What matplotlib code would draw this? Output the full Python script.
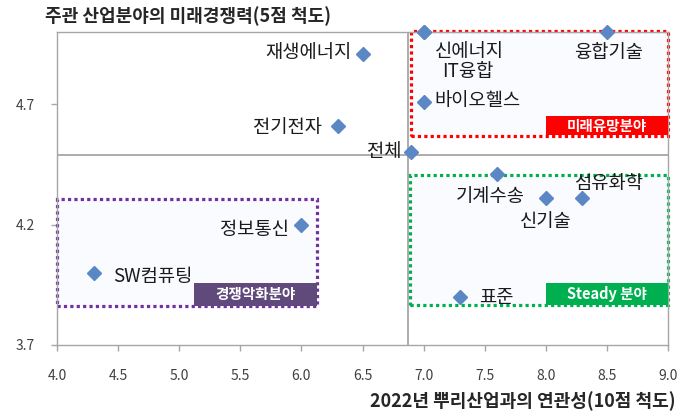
import matplotlib
matplotlib.use("Agg")
import matplotlib.pyplot as plt
from matplotlib.patches import Rectangle

plt.rcParams['font.family'] = ['Noto Sans CJK KR', 'DejaVu Sans']

# ---- data ----
labels = ["재생에너지", "신에너지", "IT융합", "융합기술", "바이오헬스", "전기전자", "전체",
          "기계수송", "신기술", "섬유화학", "표준", "정보통신", "SW컴퓨팅"]
x_vals = [6.5, 7.0, 7.0, 8.5, 7.0, 6.3, 6.9, 7.6, 8.0, 8.3, 7.3, 6.0, 4.3]
y_vals = [4.91, 5.0, 5.0, 5.0, 4.71, 4.61, 4.50, 4.41, 4.31, 4.31, 3.90, 4.20, 4.00]
x_ticks = [4.0, 4.5, 5.0, 5.5, 6.0, 6.5, 7.0, 7.5, 8.0, 8.5, 9.0]
y_ticks = [3.7, 4.2, 4.7]
ref_x = 6.87
ref_y = 4.49

# label offsets in pixels (dx, dy) and alignment
offsets = {
    "재생에너지": (-11, 1, 'right'),
    "신에너지": (11, -20, 'left'),
    "IT융합": (19, -40, 'left'),
    "융합기술": (2, -21, 'center'),
    "바이오헬스": (11, 1, 'left'),
    "전기전자": (-16, -2, 'right'),
    "전체": (-10, 1, 'right'),
    "기계수송": (-7, -22, 'center'),
    "신기술": (0, -23, 'center'),
    "섬유화학": (26, 15, 'center'),
    "표준": (19, -1, 'left'),
    "정보통신": (-12, -5, 'right'),
    "SW컴퓨팅": (19, -4, 'left'),
}

fig = plt.figure(figsize=(6.81, 4.12), dpi=100)
ax = fig.add_axes([57/681, 67/412, 611/681, 313/412])
ax.set_xlim(4.0, 9.0)
ax.set_ylim(3.7, 5.0)

grey = '#A6A6A6'
for s in ax.spines.values():
    s.set_color(grey)
    s.set_linewidth(1.0)

ax.set_xticks(x_ticks)
ax.set_xticklabels([f"{v:.1f}" for v in x_ticks])
ax.set_yticks(y_ticks)
ax.set_yticklabels([f"{v:.1f}" for v in y_ticks])
ax.tick_params(axis='both', colors=grey, labelcolor='#404040', labelsize=10, length=4, width=1)
ax.tick_params(axis='x', pad=13)
ax.tick_params(axis='y', pad=12)

# reference lines
ax.axvline(ref_x, color=grey, lw=1.3, zorder=1)
ax.axhline(ref_y, color=grey, lw=1.3, zorder=1)

# region boxes
fill = '#FAFBFE'
boxes = [
    ((6.897, 4.567), 9.0 - 6.897, 5.004 - 4.567, '#FF0000', (8.0, 4.571), 1.0, 0.079, "미래유망분야"),
    ((4.0, 3.8625), 6.13 - 4.0, 4.308 - 3.8625, '#7030A0', (5.12, 3.8625), 1.01, 0.0955, "경쟁악화분야"),
    ((6.89, 3.867), 9.0 - 6.89, 4.408 - 3.867, '#00B050', (8.0, 3.867), 1.0, 0.091, "Steady 분야"),
]
label_colors = ['#FF0000', '#604A7B', '#00B050']
for (xy, w, h, ec, lxy, lw_, lh, txt), lc in zip(boxes, label_colors):
    ax.add_patch(Rectangle(xy, w, h, facecolor=fill, edgecolor=ec, lw=2.3,
                           linestyle=(0, (1, 1)), zorder=2, clip_on=False))
    ax.add_patch(Rectangle(lxy, lw_, lh, facecolor=lc, edgecolor='none', zorder=3, clip_on=False))
    ax.text(lxy[0] + lw_ / 2, lxy[1] + lh / 2, txt, color='white', fontsize=10.5,
            fontweight='bold', ha='center', va='center', zorder=4)

ax.plot(x_vals, y_vals, linestyle='none', marker='D', markersize=7.5,
        color='#5B87C5', zorder=5, clip_on=False)

for lab, xv, yv in zip(labels, x_vals, y_vals):
    dx, dy, ha = offsets[lab]
    ax.annotate(lab, (xv, yv), xytext=(dx, dy), textcoords='offset pixels',
                ha=ha, va='center', fontsize=13.5, color='#1A1A1A', zorder=6)

fig.text(45/681, 1 - 16/412, "주관 산업분야의 미래경쟁력(5점 척도)", fontsize=13,
         fontweight='bold', color='#262626', ha='left', va='center')
fig.text(676/681, 1 - 401/412, "2022년 뿌리산업과의 연관성(10점 척도)", fontsize=13,
         fontweight='bold', color='#262626', ha='right', va='center')

fig.savefig("out.png", dpi=100)
